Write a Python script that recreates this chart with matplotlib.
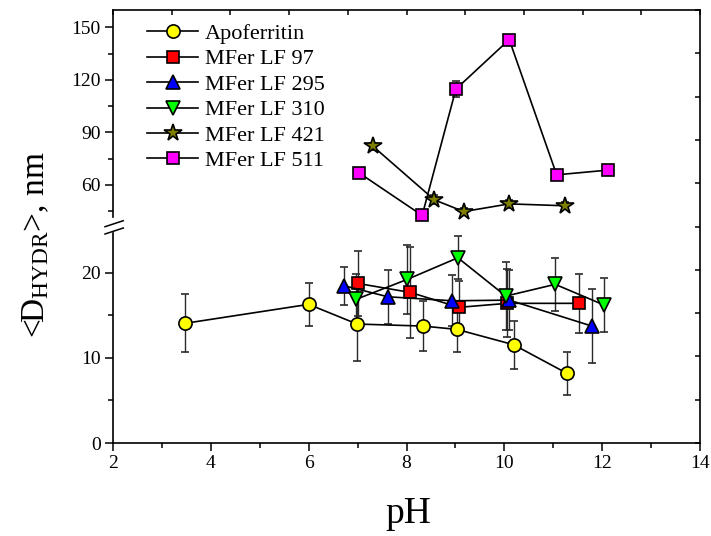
import matplotlib
matplotlib.use("Agg")
import matplotlib.pyplot as plt
from matplotlib.lines import Line2D
import numpy as np

plt.rcParams['font.family'] = ['Liberation Serif', 'DejaVu Serif']
plt.rcParams['mathtext.fontset'] = 'custom'
plt.rcParams['mathtext.rm'] = 'Liberation Serif'
plt.rcParams['mathtext.it'] = 'Liberation Serif:italic'

# ---- data ----
apo_x = [3.47, 6.0, 6.99, 8.34, 9.03, 10.19, 11.28]
apo_y = [14.05, 16.28, 13.97, 13.73, 13.34, 11.54, 8.18]
apo_e = [3.4, 2.5, 4.3, 2.9, 2.6, 2.8, 2.5]

lf97_x = [7.0, 8.08, 9.07, 10.06, 11.53]
lf97_y = [18.74, 17.68, 15.93, 16.4, 16.4]
lf97_e = [3.8, 5.3, 3.1, 4.0, 3.5]

lf295_x = [6.73, 7.62, 8.94, 10.1, 11.79]
lf295_y = [18.46, 17.17, 16.7, 16.78, 13.73]
lf295_e = [2.2, 3.2, 3.0, 3.5, 4.3]

lf310_x = [6.97, 8.01, 9.05, 10.03, 11.04, 12.04]
lf310_y = [16.87, 19.2, 21.75, 17.25, 18.63, 16.2]
lf310_e = [3.0, 4.1, 2.5, 4.0, 3.1, 3.2]

lf421_x = [7.32, 8.57, 9.17, 10.1, 11.25]
lf421_y = [81.9, 51.4, 44.7, 49.1, 48.0]
lf421_e = [2.0, 2.5, 2.0, 2.5, 2.0]

lf511_x = [7.02, 8.32, 9.01, 10.1, 11.07, 12.12]
lf511_y = [67.0, 42.5, 114.7, 143.0, 65.7, 68.4]
lf511_e = [1.5, 2.5, 4.8, 1.5, 1.5, 3.0]

labels = ['Apoferritin', 'MFer LF 97', 'MFer LF 295', 'MFer LF 310',
          'MFer LF 421', 'MFer LF 511']

x_ticks = [2, 4, 6, 8, 10, 12, 14]
low_ticks = [0, 10, 20]
up_ticks = [60, 90, 120, 150]

W, H = 711, 536
fig = plt.figure(figsize=(W / 100, H / 100), dpi=100)

def fx(px):
    return px / W

def fy(py):
    return 1 - py / H

left_px, right_px = 113, 700
ax_up = fig.add_axes([fx(left_px), fy(217), fx(right_px - left_px), (217 - 10) / H])
ax_lo = fig.add_axes([fx(left_px), fy(443), fx(right_px - left_px), (443 - 233) / H])
ax_fr = fig.add_axes([fx(left_px), fy(443), fx(right_px - left_px), (443 - 10) / H])

lw_sp = 1.2
ax_lo.set_xlim(2, 14)
ax_lo.set_ylim(0, 24.66)
ax_up.set_xlim(2, 14)
ax_up.set_ylim(41.6, 159.9)

for ax in (ax_lo, ax_up):
    ax.patch.set_alpha(0)
    for s in ax.spines.values():
        s.set_linewidth(lw_sp)
    ax.spines['top'].set_visible(False)
    ax.spines['right'].set_visible(False)
ax_up.spines['bottom'].set_visible(False)

ax_lo.set_xticks(x_ticks)
ax_lo.set_xticks(np.arange(3, 14, 2), minor=True)
ax_lo.set_yticks(low_ticks)
ax_lo.set_yticks([5, 15], minor=True)
ax_up.set_xticks([])
ax_up.set_xticks([], minor=True)
ax_up.set_yticks(up_ticks)
ax_up.set_yticks([45, 75, 105, 135], minor=True)

for ax in (ax_lo, ax_up):
    ax.tick_params(which='major', direction='out', length=6, width=1.1,
                   labelsize=14, pad=3)
    ax.tick_params(which='minor', direction='out', length=3.5, width=1.1)

# frame overlay for top/right
ax_fr.set_xlim(0, 1)
ax_fr.set_ylim(0, 1)
ax_fr.patch.set_alpha(0)
ax_fr.spines['left'].set_visible(False)
ax_fr.spines['bottom'].set_visible(False)
for s in ('top', 'right'):
    ax_fr.spines[s].set_linewidth(lw_sp)
ax_fr.xaxis.set_ticks_position('top')
ax_fr.yaxis.set_ticks_position('right')
ax_fr.set_xticks(np.linspace(0, 1, 11))
ax_fr.set_yticks(np.linspace(0, 1, 11))
ax_fr.tick_params(direction='in', length=3.5, width=1.1,
                  labelleft=False, labelbottom=False, labeltop=False, labelright=False)

ecol = '#2a2a2a'
common = dict(color='black', lw=1.2, ecolor=ecol, elinewidth=1.0, capsize=3.2,
              capthick=1.0, mec='black', mew=1.2)

styles = [
    dict(marker='o', mfc='#ffff00', ms=9.5),
    dict(marker='s', mfc='#ff0000', ms=8),
    dict(marker='^', mfc='#0000ff', ms=10.5),
    dict(marker='v', mfc='#00ff00', ms=10.5),
    dict(marker='*', mfc='#808000', ms=13),
    dict(marker='s', mfc='#ff00ff', ms=9),
]

series = [
    (ax_lo, apo_x, apo_y, apo_e),
    (ax_lo, lf97_x, lf97_y, lf97_e),
    (ax_lo, lf295_x, lf295_y, lf295_e),
    (ax_lo, lf310_x, lf310_y, lf310_e),
    (ax_up, lf421_x, lf421_y, lf421_e),
    (ax_up, lf511_x, lf511_y, lf511_e),
]

handles = []
for (ax, x, y, e), st in zip(series, styles):
    cont = ax.errorbar(x, y, yerr=e, **common, **st)
    for child in cont.get_children():
        child.set_clip_on(False)
    handles.append(Line2D([], [], color='black', lw=1.2, mec='black', mew=1.2, **st))

ax_up.legend(handles, labels, loc='upper left', bbox_to_anchor=(0.058, 0.935),
             frameon=False, fontsize=16, handlelength=2.3, handletextpad=0.3,
             labelspacing=0.22, borderpad=0, borderaxespad=0, numpoints=1)

# axis labels
fig.text(fx(36), fy(245), r'<D$_{\mathrm{HYDR}}$>, nm', rotation=90,
         ha='center', va='center', fontsize=24)
fig.text(fx(408), fy(523), 'pH', ha='center', va='baseline', fontsize=27)

# break marks
for (x0, y0, x1, y1) in [(105, 226.7, 123.3, 220.7), (105, 234, 123.3, 228)]:
    fig.add_artist(Line2D([fx(x0), fx(x1)], [fy(y0), fy(y1)],
                          transform=fig.transFigure, color='black', lw=1.1))

fig.savefig('out.png', dpi=100)
